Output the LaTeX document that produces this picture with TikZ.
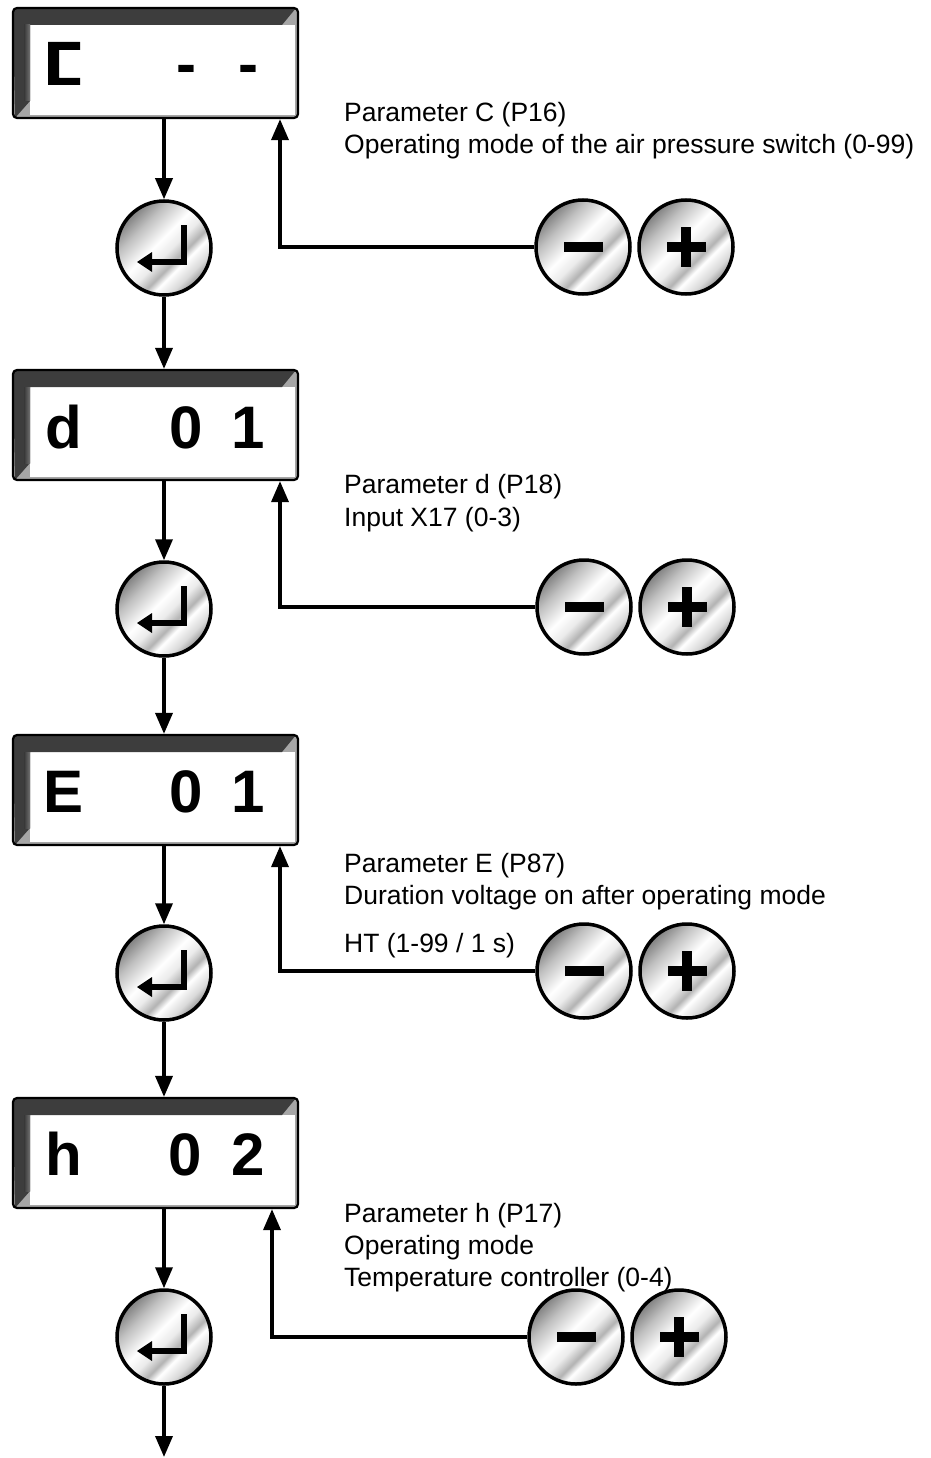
\documentclass[tikz,border=0pt]{standalone}
\usepackage{fontspec}
\setmainfont{Liberation Sans}
\usetikzlibrary{arrows.meta,calc}
\pgfdeclarehorizontalshading{metal}{100bp}{color(0bp)=(black!50); color(25bp)=(black!50); color(34bp)=(black!25); color(46bp)=(white); color(53bp)=(black!8); color(59bp)=(black!30); color(63bp)=(white); color(70bp)=(black!15); color(75bp)=(black!40); color(100bp)=(black!40)}
\begin{document}
\begin{tikzpicture}[x=1pt,y=-1pt,
  dispbox/.style={draw=black, line width=2.2pt, rounded corners=4pt, minimum width=285pt, minimum height=110pt, inner sep=0pt, fill=black!35,
    path picture={
      \fill[white,sharp corners] ([xshift=17pt,yshift=-17pt]path picture bounding box.north west) rectangle ([xshift=-3pt,yshift=3pt]path picture bounding box.south east);
      \fill[black!76,sharp corners] (path picture bounding box.north west) -- ([xshift=-2pt]path picture bounding box.north east) -- ([xshift=-16pt,yshift=-17pt]path picture bounding box.north east) -- ([xshift=17pt,yshift=-17pt]path picture bounding box.north west) -- ([xshift=17pt,yshift=17pt]path picture bounding box.south west) -- ([xshift=2pt]path picture bounding box.south west) -- cycle;
      \shade[sharp corners,left color=black!78,right color=black!55] ([xshift=11pt,yshift=-17pt]path picture bounding box.north west) rectangle ([xshift=17pt,yshift=17pt]path picture bounding box.south west);
    }},
  btn/.style={circle, draw=black, line width=3.5pt, minimum size=94pt, inner sep=0pt, shade, shading=metal, shading angle=-45},
  enterbtn/.style={btn, path picture={
      \draw[line width=6pt,sharp corners] ([xshift=20pt,yshift=23pt]path picture bounding box.center) -- ([xshift=20pt,yshift=-14pt]path picture bounding box.center) -- ([xshift=-13pt,yshift=-14pt]path picture bounding box.center);
      \fill ([xshift=-27pt,yshift=-14pt]path picture bounding box.center) -- ([xshift=-12pt,yshift=-4pt]path picture bounding box.center) -- ([xshift=-12pt,yshift=-24pt]path picture bounding box.center) -- cycle;
    }},
  minusbtn/.style={btn, path picture={
      \fill ([xshift=-19.5pt,yshift=5pt]path picture bounding box.center) rectangle ([xshift=19.5pt,yshift=-5pt]path picture bounding box.center);
    }},
  plusbtn/.style={btn, path picture={
      \fill ([xshift=-19.5pt,yshift=5pt]path picture bounding box.center) rectangle ([xshift=19.5pt,yshift=-5pt]path picture bounding box.center);
      \fill ([xshift=-5pt,yshift=20pt]path picture bounding box.center) rectangle ([xshift=5pt,yshift=-20pt]path picture bounding box.center);
    }},
  dchar/.style={font=\bfseries\fontsize{60}{60}\selectfont, inner sep=0pt, anchor=base},
  lbl/.style={font=\fontsize{26.5}{32}\selectfont, inner sep=0pt, anchor=base west},
  flow/.style={line width=3.5pt, -{Triangle[length=21pt,width=17pt]}}
]
\useasboundingbox[fill=white] (0,0) rectangle (930,1458);

% displays
\node[dispbox] (b1) at (155.5,63) {};
\node[dispbox] (b2) at (155.5,425) {};
\node[dispbox] (b3) at (155.5,790) {};
\node[dispbox] (b4) at (155.5,1153) {};

% display contents
\fill (48,42) -- (80,42) -- (80,50) -- (59,50) -- (59,78) -- (80,78) -- (80,85) -- (48,85) -- cycle;
\node[dchar] (c1b) at (186.5,85) {-};
\node[dchar] (c1c) at (248.5,85) {-};
\node[dchar] (c2a) at (64,448) {d};
\node[dchar] (c2b) at (186.5,448) {0};
\node[dchar] (c2c) at (248,448) {1};
\node[dchar] (c3a) at (64,812) {E};
\node[dchar] (c3b) at (186.5,812) {0};
\node[dchar] (c3c) at (248,812) {1};
\node[dchar] (c4a) at (64,1175) {h};
\node[dchar] (c4b) at (185,1175) {0};
\node[dchar] (c4c) at (248,1175) {2};

% enter buttons
\node[enterbtn] (e1) at (164,248) {};
\node[enterbtn] (e2) at (164,609) {};
\node[enterbtn] (e3) at (164,973) {};
\node[enterbtn] (e4) at (164,1337) {};

% minus / plus buttons
\node[minusbtn] (m1) at (583,247) {};
\node[plusbtn]  (p1) at (686,247) {};
\node[minusbtn] (m2) at (584,607) {};
\node[plusbtn]  (p2) at (687,607) {};
\node[minusbtn] (m3) at (584,971) {};
\node[plusbtn]  (p3) at (687,971) {};
\node[minusbtn] (m4) at (576,1337) {};
\node[plusbtn]  (p4) at (679,1337) {};

\coordinate (end) at (164,1457);

% flow arrows
\draw[flow] (e1 |- b1.south) -- (e1.north);
\draw[flow] (e1.south) -- (e1 |- b2.north);
\draw[flow] (e2 |- b2.south) -- (e2.north);
\draw[flow] (e2.south) -- (e2 |- b3.north);
\draw[flow] (e3 |- b3.south) -- (e3.north);
\draw[flow] (e3.south) -- (e3 |- b4.north);
\draw[flow] (e4 |- b4.south) -- (e4.north);
\draw[flow] (e4.south) -- (end);

% feedback arrows
\draw[flow] (m1.west) -| ([xshift=124.5pt]b1.south);
\draw[flow] (m2.west) -| ([xshift=124.5pt]b2.south);
\draw[flow] (m3.west) -| ([xshift=124.5pt]b3.south);
\draw[flow] (m4.west) -| ([xshift=116.5pt]b4.south);

% labels
\node[lbl] (t1a) at (344,122) {Parameter C (P16)};
\node[lbl] (t1b) at (344,154) {Operating mode of the air pressure switch (0-99)};
\node[lbl] (t2a) at (344,493) {Parameter d (P18)};
\node[lbl] (t2b) at (344,526) {Input X17 (0-3)};
\node[lbl] (t3a) at (344,872) {Parameter E (P87)};
\node[lbl] (t3b) at (344,904) {Duration voltage on after operating mode};
\node[lbl] (t3c) at (344,952) {HT (1-99 / 1 s)};
\node[lbl] (t4a) at (344,1222) {Parameter h (P17)};
\node[lbl] (t4b) at (344,1254) {Operating mode};
\node[lbl] (t4c) at (344,1286) {Temperature controller (0-4)};
\end{tikzpicture}
\end{document}
